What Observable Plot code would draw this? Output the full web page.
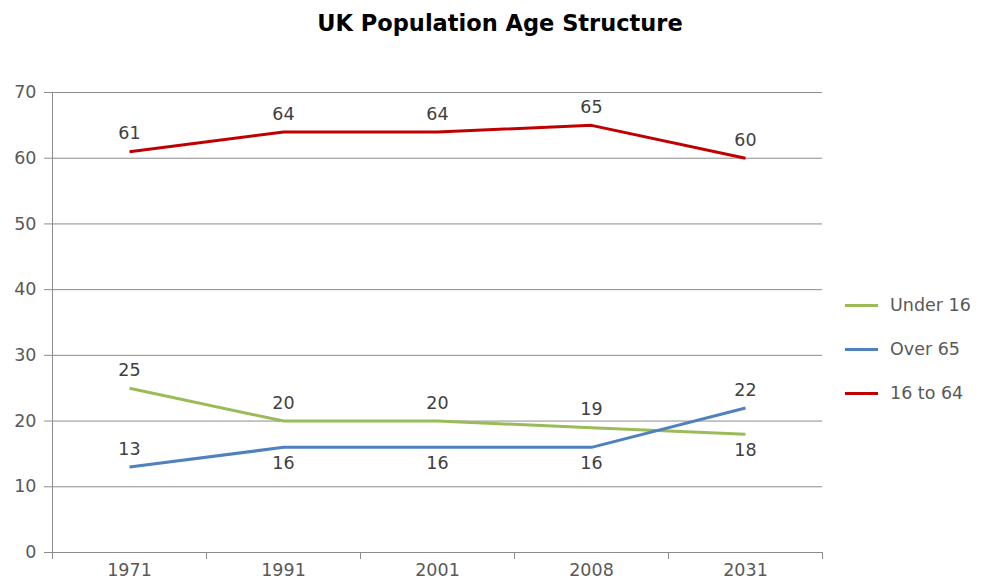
<!DOCTYPE html>
<html>
<head>
<meta charset="utf-8">
<script src="https://cdn.jsdelivr.net/npm/d3@7"></script>
<script src="https://cdn.jsdelivr.net/npm/@observablehq/plot@0.6"></script>
<style>
  html, body { margin: 0; padding: 0; background: #fff; }
  #wrap { position: relative; width: 982px; height: 580px; overflow: hidden; }
  #title { position: absolute; left: 0; top: 9px; width: 1000px; text-align: center; line-height: 28px;
    font-family: "DejaVu Sans", Verdana, sans-serif; font-weight: bold; font-size: 22.5px; color: #000; }
  #chart { position: absolute; left: 0; top: 44px; }
  #legend { position: absolute; left: 845px; top: 0; font-family: "DejaVu Sans", Verdana, sans-serif;
    font-size: 17.5px; color: #595959; }
  .item { position: absolute; left: 0; display: flex; align-items: center; height: 24px; white-space: nowrap; }
  .sw { width: 33px; height: 3px; margin-right: 12px; }
</style>
</head>
<body>
<div id="wrap">
  <div id="title">UK Population Age Structure</div>
  <div id="chart"></div>
  <div id="legend"></div>
</div>
<script>
const categories = ["1971", "1991", "2001", "2008", "2031"];
const seriesNames = ["Under 16", "Over 65", "16 to 64"];
const under16 = [25, 20, 20, 19, 18];
const over65 = [13, 16, 16, 16, 22];
const age16to64 = [61, 64, 64, 65, 60];
const under16Place = ["above", "above", "above", "above", "below"];
const over65Place = ["above", "below", "below", "below", "above"];
const age16to64Place = ["above", "above", "above", "above", "above"];
const colors = ["#9bbb59", "#4f81bd", "#c00000"];
const yTicks = [0, 10, 20, 30, 40, 50, 60, 70];

const seriesValues = [under16, over65, age16to64];
const seriesPlaces = [under16Place, over65Place, age16to64Place];
const rows = seriesNames.flatMap((name, s) =>
  seriesValues[s].map((v, i) => ({series: name, i, value: v, place: seriesPlaces[s][i]}))
);
const boundaries = d3.range(categories.length + 1).map(k => k - 0.5);
const labelFont = "DejaVu Sans, Verdana, sans-serif";

const chart = Plot.plot({
  width: 982,
  height: 536,
  marginLeft: 52,
  marginRight: 160,
  marginTop: 48,
  marginBottom: 28,
  style: {fontFamily: labelFont, fontSize: "17.5px", background: "transparent"},
  x: {type: "linear", domain: [-0.5, categories.length - 0.5], axis: null},
  y: {domain: [0, 70], axis: null},
  color: {domain: seriesNames, range: colors},
  marks: [
    Plot.gridY(yTicks.filter(d => d > 0), {stroke: "#8c8c8c", strokeOpacity: 1, strokeWidth: 1}),
    Plot.ruleY([0], {stroke: "#8c8c8c", strokeWidth: 1}),
    Plot.ruleX([-0.5], {y1: 0, y2: 70, stroke: "#8c8c8c", strokeWidth: 1}),
    Plot.axisY({ticks: yTicks, tickSize: 8, tickPadding: 8, stroke: "#8c8c8c", fill: "#595959",
      fontSize: 17.5, label: null}),
    Plot.axisX({ticks: boundaries, tickSize: 7, tickFormat: () => "", stroke: "#8c8c8c", label: null}),
    Plot.axisX({ticks: d3.range(categories.length), tickSize: 0, tickPadding: 11,
      tickFormat: i => categories[i], fill: "#595959", fontSize: 17.5, label: null}),
    Plot.line(rows, {x: "i", y: "value", z: "series", stroke: "series", strokeWidth: 3,
      strokeLinejoin: "round", strokeLinecap: "butt"}),
    Plot.text(rows.filter(d => d.place === "above"), {x: "i", y: "value", text: d => String(d.value),
      dy: -18, fill: "#404040", fontSize: 17.5}),
    Plot.text(rows.filter(d => d.place === "below"), {x: "i", y: "value", text: d => String(d.value),
      dy: 16, fill: "#404040", fontSize: 17.5})
  ]
});
document.getElementById("chart").appendChild(chart);

const legend = document.getElementById("legend");
const legendTop = 293;
const legendStep = 44;
seriesNames.forEach((name, s) => {
  const item = document.createElement("div");
  item.className = "item";
  item.style.top = (legendTop + s * legendStep) + "px";
  const sw = document.createElement("div");
  sw.className = "sw";
  sw.style.background = colors[s];
  const t = document.createElement("span");
  t.textContent = name;
  item.appendChild(sw);
  item.appendChild(t);
  legend.appendChild(item);
});
</script>
</body>
</html>
